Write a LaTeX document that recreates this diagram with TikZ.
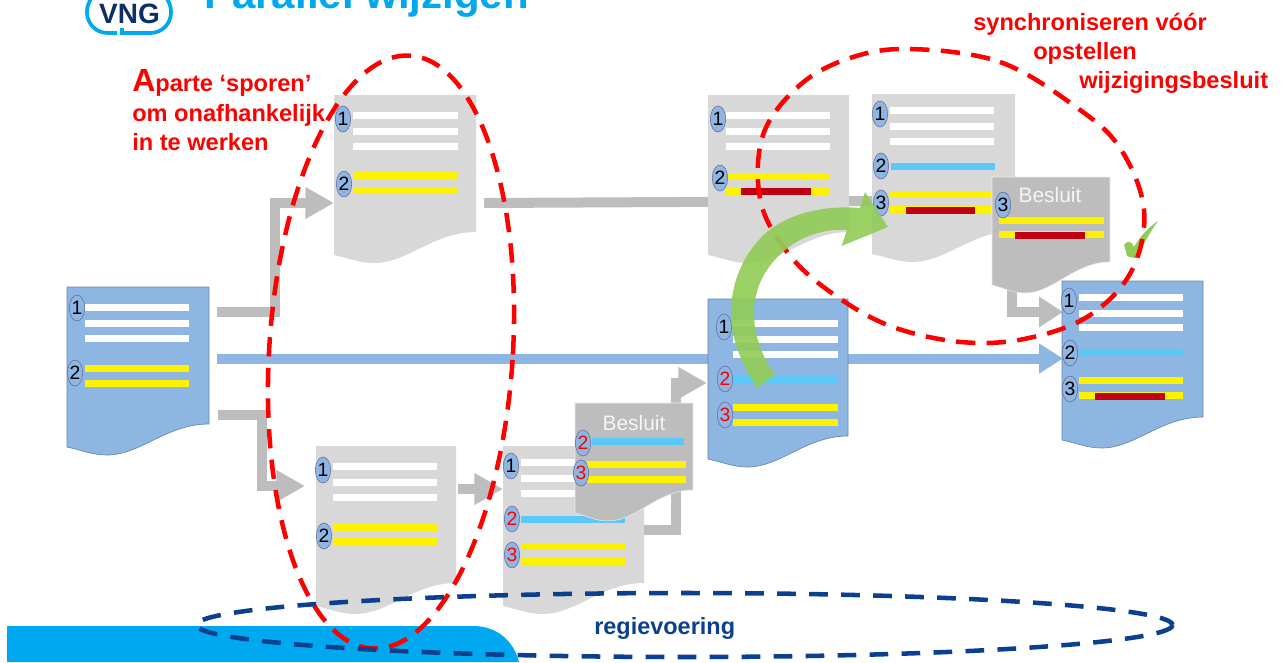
\documentclass[tikz,border=0pt]{standalone}
\usepackage{fontspec}
\setmainfont{Liberation Sans}
\usepackage{tikz}
\usetikzlibrary{arrows.meta,shapes.geometric}

\definecolor{docblue}{HTML}{8DB6E2}
\definecolor{docgrey}{HTML}{D8D8D8}
\definecolor{besluitgrey}{HTML}{BDBDBD}
\definecolor{arrowgrey}{HTML}{BDBDBD}
\definecolor{lightblue}{HTML}{5BC8FC}
\definecolor{darkred}{HTML}{C00010}
\definecolor{vngcyan}{HTML}{00A8F0}
\definecolor{regieblue}{HTML}{0B3F8F}
\definecolor{vngnavy}{HTML}{0B2F66}
\definecolor{arcgreen}{HTML}{92CC58}

\tikzset{
  greyarrow/.style={draw=arrowgrey, line width=7.5pt, line join=miter,
    -{Triangle[length=21.5pt,width=22.5pt]}},
  bluearrow/.style={draw=docblue, line width=7.5pt,
    -{Triangle[length=18pt,width=21.5pt]}},
  badge/.style={ellipse, draw=gray!80!blue, line width=.4pt, fill=docblue,
    minimum width=11.5pt, minimum height=19.5pt, inner sep=0pt, font=\fontsize{14.5}{14.5}\selectfont},
  reddash/.style={draw=red, line width=3.4pt, dash pattern=on 14.5pt off 8.5pt},
  bluedash/.style={draw=regieblue, line width=3.4pt, dash pattern=on 14pt off 10pt},
  redlabel/.style={text=red, font=\fontsize{17.7}{20}\selectfont\bfseries, inner sep=0pt, anchor=base west},
  besluitlabel/.style={text=white!92!gray, font=\fontsize{15.7}{15.7}\selectfont, inner sep=0pt},
  bluesheet/.style={fill=docblue, draw=docblue!75!black, line width=.5pt},
  greysheet/.style={fill=docgrey},
  besluitsheet/.style={fill=besluitgrey, draw=white!85!gray, line width=.4pt}
}

% sheet with a wavy bottom: name, x, y, width, height right, style
\newcommand{\sheet}[6]{
  \path[#6] (#2,#3) -- ++(#4,0) -- ++(0,#5)
    .. controls +(-0.3*#4,0) and +(0.24*#4,0) .. ++(-0.72*#4,31)
    .. controls +(-0.1*#4,0) and +(0.1*#4,3) .. ++(-0.28*#4,-8) -- cycle;
  \coordinate (#1) at (#2,#3);
}
% horizontal text bar: from, to, y, colour
\newcommand{\linebar}[4]{\fill[#4] (#1,#3-3.5) rectangle (#2,#3+3.5);}

\begin{document}
\begin{tikzpicture}[x=.75pt, y=-.75pt]
\useasboundingbox (0,0) rectangle (1282,662);
\clip (0,0) rectangle (1282,662);

% logo and title
\draw[vngcyan, line width=2.8pt] (117,33) -- (108,33) .. controls (96,33) and (87,24) .. (87,12) .. controls (87,6) and (89,2) .. (92,-3);
\draw[vngcyan, line width=2.8pt] (122,28) -- (122,33) -- (150,33) .. controls (162,33) and (171,24) .. (171,12) .. controls (171,6) and (169,2) .. (166,-3);
\node[text=vngnavy, font=\fontsize{21}{21}\selectfont\bfseries, inner sep=0pt, anchor=base] (logotext) at (129.5,23) {VNG};
\node[text=vngcyan, font=\fontsize{31.5}{31.5}\selectfont\bfseries, inner sep=0pt, anchor=base west] (title) at (204,8.5) {Parallel wijzigen};

% bottom band
\fill[vngcyan] (7,626) -- (473,626) .. controls (498,626) and (514,642) .. (519,662) -- (7,662) -- cycle;

% free ends of the arrows
\coordinate (out1) at (217,312);
\coordinate (out2) at (217,358.5);
\coordinate (out3) at (218,415);
\coordinate (in1) at (334,203);
\coordinate (in2) at (1063,358.5);
\coordinate (in3) at (305,486);
\coordinate (out4) at (458,489);
\coordinate (in4) at (503,489);
\coordinate (out5) at (644,530);
\coordinate (in5) at (707,383);
\coordinate (out6) at (484,203);
\coordinate (in6) at (872,201);
\coordinate (out7) at (1012,280);
\coordinate (in7) at (1063,312);

\draw[greyarrow] (out1) -| (275,203) -- (in1);
\draw[greyarrow] (out3) -| (262,486) -- (in3);
\draw[greyarrow] (out4) -- (in4);
\draw[greyarrow] (out5) -| (675.5,383) -- (in5);
\draw[draw=arrowgrey, line width=7.5pt] (out6) -- (in6);
\draw[greyarrow, -{Triangle[length=18pt,width=22pt]}] (out7) |- (in7);
\draw[bluearrow] (out2) -- (in2);

% start document
\sheet{docstart}{67}{287}{142}{137}{bluesheet}
\foreach \y in {307,323,338} {\linebar{85}{189}{\y}{white}}
\foreach \y in {368,383} {\linebar{85}{189}{\y}{yellow}}
\node[badge] (s1) at (77,308) {1};
\node[badge] (s2) at (75,373) {2};

% upper grey document
\sheet{docup}{334}{95}{142}{137}{greysheet}
\foreach \y in {115,131,146} {\linebar{353}{458}{\y}{white}}
\foreach \y in {175,190} {\linebar{353}{458}{\y}{yellow}}
\node[badge] (a1) at (343,119) {1};
\node[badge] (a2) at (344,184) {2};

% lower grey documents
\sheet{doclow}{316}{446}{140}{137}{greysheet}
\foreach \y in {466,482,497} {\linebar{333}{437}{\y}{white}}
\foreach \y in {527,541} {\linebar{333}{437}{\y}{yellow}}
\node[badge] (b1) at (323,470) {1};
\node[badge] (b2) at (324,536) {2};

\sheet{docnext}{503}{446}{141}{137}{greysheet}
\foreach \y in {462,478,493} {\linebar{521}{625}{\y}{white}}
\linebar{521}{625}{519}{lightblue}
\foreach \y in {546,561} {\linebar{521}{625}{\y}{yellow}}
\node[badge] (c1) at (511,466) {1};
\node[badge, text=red] (c2) at (512,519) {2};
\node[badge, text=red] (c3) at (512,555) {3};

% lower decision
\sheet{beslow}{575}{403}{118}{87}{besluitsheet}
\node[besluitlabel] (beslowtext) at (634,423) {Besluit};
\linebar{592}{684}{441}{lightblue}
\foreach \y in {464,479} {\linebar{587}{686}{\y}{yellow}}
\node[badge, text=red] (d2) at (583,443) {2};
\node[badge, text=red] (d3) at (581,473) {3};

% middle blue document
\sheet{docmid}{708}{299}{140}{137}{bluesheet}
\foreach \y in {323,339,354} {\linebar{733}{838}{\y}{white}}
\linebar{733}{838}{379}{lightblue}
\foreach \y in {407,422} {\linebar{733}{838}{\y}{yellow}}
\node[badge] (h1) at (724,327) {1};
\node[badge, text=red] (h2) at (725,379) {2};
\node[badge, text=red] (h3) at (725,415) {3};

% upper right grey documents
\sheet{docright}{708}{95}{141}{137}{greysheet}
\foreach \y in {115,131,146} {\linebar{726}{830}{\y}{white}}
\foreach \y in {176,191} {\linebar{726}{830}{\y}{yellow}}
\linebar{741}{811}{191}{darkred}
\node[badge] (e1) at (718,119) {1};
\node[badge] (e2) at (720,178) {2};

\sheet{docsync}{872}{94}{143}{137}{greysheet}
\foreach \y in {110,126,141} {\linebar{890}{994}{\y}{white}}
\linebar{891}{995}{166}{lightblue}
\foreach \y in {194,209} {\linebar{890}{992}{\y}{yellow}}
\linebar{906}{975}{210}{darkred}
\node[badge] (f1) at (880,114) {1};
\node[badge] (f2) at (881,166) {2};
\node[badge] (f3) at (881,203) {3};

% upper decision
\sheet{besup}{992}{177}{118}{85}{besluitsheet}
\node[besluitlabel] (besuptext) at (1050,195) {Besluit};
\foreach \y in {220,234} {\linebar{999}{1104}{\y}{yellow}}
\linebar{1015}{1085}{235}{darkred}
\node[badge] (g3) at (1003,205) {3};

% end document
\sheet{docend}{1062}{281}{141}{136}{bluesheet}
\foreach \y in {297,313,327} {\linebar{1079}{1183}{\y}{white}}
\linebar{1079}{1183}{352}{lightblue}
\foreach \y in {380,395} {\linebar{1079}{1183}{\y}{yellow}}
\linebar{1095}{1165}{396}{darkred}
\node[badge] (i1) at (1069,301) {1};
\node[badge] (i2) at (1070,353) {2};
\node[badge] (i3) at (1070,389) {3};

% tick
\fill[arcgreen] (1124,245) .. controls (1127,240) and (1132,241) .. (1134,247)
  .. controls (1141,235) and (1150,226) .. (1158,221) .. controls (1150,232) and (1143,245) .. (1137,258)
  .. controls (1132,258) and (1129,257) .. (1127,256) -- cycle;

% dashed outlines
\draw[reddash, rotate around={-3.7:(391,352)}] (391,352) ellipse [x radius=121.8, y radius=297];
\draw[reddash] plot[smooth cycle, tension=.6] coordinates {(910,49) (1000,62) (1076,107) (1120,148) (1144,210) (1131,272)
  (1087,317) (1024,339) (961,342) (893,327) (839,298) (792,258) (761,203) (763,135) (800,85) (850,58)};
\draw[bluedash] (684.5,625) ellipse [x radius=488, y radius=32];

% green arc
\fill[arcgreen, fill opacity=.92] (757,388) .. controls (738,358) and (731,335) .. (731,313)
  .. controls (731,283) and (743,253) .. (767,232) .. controls (790,213) and (825,205) .. (860,208)
  -- (865,192) -- (888,227) -- (841.5,246) -- (847,230)
  .. controls (825,228) and (800,237) .. (785,250) .. controls (765,267) and (754,288) .. (754,313)
  .. controls (754,335) and (762,357) .. (775,375) -- cycle;

% labels
\node[redlabel] (apart1) at (132,91) {\fontsize{24}{24}\selectfont A\fontsize{17.7}{20}\selectfont parte ‘sporen’};
\node[redlabel] (apart2) at (132,121) {om onafhankelijk};
\node[redlabel] (apart3) at (132,150) {in te werken};
\node[redlabel] (sync1) at (973,30) {synchroniseren vóór};
\node[redlabel] (sync2) at (1033,59) {opstellen};
\node[redlabel] (sync3) at (1079,88) {wijzigingsbesluit};
\node[text=regieblue, font=\fontsize{17.6}{17.6}\selectfont\bfseries, inner sep=0pt, anchor=base west] (regie) at (594,634) {regievoering};
\end{tikzpicture}
\end{document}
